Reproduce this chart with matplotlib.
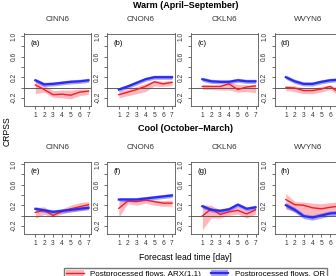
import matplotlib
matplotlib.use("Agg")
import matplotlib.pyplot as plt
from matplotlib.lines import Line2D
from matplotlib.patches import Patch

plt.rcParams["font.family"] = ["Liberation Sans", "DejaVu Sans"]

LEAD = [1, 2, 3, 4, 5, 6, 7]
STATIONS = ["CINN6", "CNON6", "CKLN6", "WVYN6"]
WARM_TAGS = ["(a)", "(b)", "(c)", "(d)"]
COOL_TAGS = ["(e)", "(f)", "(g)", "(h)"]

# QR (blue) - warm season
warm_qr = [[0.14, 0.06, 0.07, 0.09, 0.11, 0.12, 0.14],
           [-0.04, 0.02, 0.09, 0.16, 0.20, 0.20, 0.20],
           [0.16, 0.12, 0.11, 0.11, 0.14, 0.12, 0.12],
           [0.20, 0.12, 0.07, 0.07, 0.11, 0.14, 0.15]]
warm_qr_lo = [[0.10, 0.02, 0.03, 0.05, 0.07, 0.08, 0.10],
              [-0.08, -0.02, 0.05, 0.12, 0.16, 0.16, 0.16],
              [0.12, 0.08, 0.07, 0.07, 0.10, 0.08, 0.08],
              [0.16, 0.08, 0.03, 0.03, 0.07, 0.10, 0.11]]
warm_qr_hi = [[0.18, 0.10, 0.11, 0.13, 0.15, 0.16, 0.18],
              [0.00, 0.06, 0.13, 0.20, 0.24, 0.24, 0.24],
              [0.20, 0.16, 0.15, 0.15, 0.18, 0.16, 0.16],
              [0.24, 0.16, 0.11, 0.11, 0.15, 0.18, 0.19]]
# ARX(1,1) (red) - warm season
warm_arx = [[0.05, -0.04, -0.14, -0.13, -0.15, -0.09, -0.07],
            [-0.14, -0.09, -0.04, 0.02, 0.11, 0.07, 0.10],
            [0.02, 0.02, 0.02, 0.07, -0.04, 0.01, 0.03],
            [0.00, -0.01, -0.06, -0.06, -0.03, 0.02, -0.10]]
warm_arx_lo = [[-0.12, -0.09, -0.19, -0.20, -0.22, -0.16, -0.13],
               [-0.20, -0.16, -0.12, -0.08, 0.03, 0.02, 0.04],
               [-0.04, -0.04, -0.05, -0.05, -0.09, -0.08, -0.10],
               [-0.06, -0.08, -0.12, -0.12, -0.09, -0.04, -0.16]]
warm_arx_hi = [[0.12, 0.04, -0.06, -0.05, -0.05, -0.03, -0.03],
               [-0.08, -0.03, 0.02, 0.08, 0.14, 0.12, 0.14],
               [0.06, 0.05, 0.05, 0.10, 0.06, 0.05, 0.06],
               [0.04, 0.03, 0.00, -0.01, 0.02, 0.05, -0.02]]

# QR (blue) - cool season
cool_qr = [[0.13, 0.10, 0.07, 0.09, 0.11, 0.13, 0.15],
           [0.31, 0.31, 0.31, 0.33, 0.35, 0.37, 0.39],
           [0.18, 0.11, 0.09, 0.12, 0.21, 0.13, 0.16],
           [0.20, 0.11, -0.01, -0.04, 0.00, 0.04, 0.05]]
cool_qr_lo = [[0.09, 0.06, 0.03, 0.05, 0.07, 0.09, 0.11],
              [0.27, 0.27, 0.27, 0.29, 0.31, 0.33, 0.35],
              [0.14, 0.07, 0.05, 0.08, 0.17, 0.09, 0.12],
              [0.15, 0.06, -0.06, -0.09, -0.05, -0.01, 0.00]]
cool_qr_hi = [[0.17, 0.14, 0.11, 0.13, 0.15, 0.17, 0.19],
              [0.35, 0.35, 0.35, 0.37, 0.39, 0.41, 0.43],
              [0.22, 0.15, 0.13, 0.16, 0.25, 0.17, 0.20],
              [0.25, 0.16, 0.04, 0.01, 0.05, 0.09, 0.10]]
# ARX(1,1) (red) - cool season
cool_arx = [[0.06, 0.10, 0.00, 0.08, 0.13, 0.17, 0.21],
            [0.14, 0.28, 0.27, 0.30, 0.27, 0.24, 0.24],
            [-0.01, 0.13, 0.02, 0.07, 0.10, 0.03, 0.11],
            [0.31, 0.21, 0.20, 0.15, 0.13, 0.16, 0.18]]
cool_arx_lo = [[-0.05, 0.02, -0.03, 0.03, 0.07, 0.10, 0.13],
               [-0.03, 0.23, 0.20, 0.24, 0.20, 0.18, 0.18],
               [-0.28, -0.05, -0.05, 0.00, 0.03, -0.05, 0.03],
               [0.12, 0.08, 0.04, 0.00, 0.02, 0.05, 0.07]]
cool_arx_hi = [[0.15, 0.17, 0.05, 0.13, 0.20, 0.25, 0.27],
               [0.26, 0.33, 0.32, 0.34, 0.30, 0.29, 0.30],
               [0.20, 0.20, 0.10, 0.13, 0.17, 0.10, 0.16],
               [0.43, 0.27, 0.26, 0.24, 0.23, 0.25, 0.27]]

YTICKS = [-0.2, 0.0, 0.2, 0.4, 0.6, 0.8, 1.0]
YLABS = ["-0.2", "", "0.2", "", "0.6", "", "1.0"]

RED, PINK = "#e8202a", (1.0, 0.2, 0.25, 0.35)
BLUE, LBLUE = "#2b2bf0", (0.35, 0.35, 1.0, 0.55)

W, H = 336, 276
fig = plt.figure(figsize=(W / 100, H / 100), dpi=100)

# one panel: bands first, then zero line, then the two curves
def panel(x0, y0, name, tag, qr, qlo, qhi, arx, alo, ahi):
    ax = fig.add_axes([x0 / W, 1 - (y0 + 72) / H, 67 / W, 72 / H])
    ax.fill_between(LEAD, alo, ahi, color=PINK, lw=0)
    ax.fill_between(LEAD, qlo, qhi, color=LBLUE, lw=0)
    ax.axhline(0, color="#444444", lw=0.6)
    ax.plot(LEAD, arx, color=RED, lw=1.0)
    ax.plot(LEAD, qr, color=BLUE, lw=1.6)
    ax.set_xlim(-0.28, 7.28); ax.set_ylim(-0.35, 1.05)
    ax.set_xticks(LEAD); ax.set_xticklabels([str(i) for i in LEAD])
    ax.set_yticks(YTICKS); ax.set_yticklabels(YLABS, rotation=90, va="center")
    ax.tick_params(labelsize=4.8, length=2.5, width=0.5, pad=2, colors="#333333")
    for s in ax.spines.values(): s.set_linewidth(0.6); s.set_color("#555555")
    ax.text(0.09, 0.86, tag, transform=ax.transAxes, fontsize=5.5, va="center")
    ax.text(0.5, 1.2, name, transform=ax.transAxes, fontsize=5.8, ha="center",
            va="center", color="#333333")
    return ax

lefts = [24, 107.5, 191, 274.5]
for i in range(4):
    panel(lefts[i], 33.5, STATIONS[i], WARM_TAGS[i], warm_qr[i], warm_qr_lo[i], warm_qr_hi[i],
          warm_arx[i], warm_arx_lo[i], warm_arx_hi[i])
    panel(lefts[i], 161.5, STATIONS[i], COOL_TAGS[i], cool_qr[i], cool_qr_lo[i], cool_qr_hi[i],
          cool_arx[i], cool_arx_lo[i], cool_arx_hi[i])

fig.text(186 / W, 1 - 5 / H, "Warm (April\u2013September)", fontsize=6.5, fontweight="bold",
         ha="center", va="center")
fig.text(186 / W, 1 - 128 / H, "Cool (October\u2013March)", fontsize=6.5, fontweight="bold",
         ha="center", va="center")
fig.text(185 / W, 1 - 257 / H, "Forecast lead time [day]", fontsize=6.2, ha="center", va="center")
fig.text(7 / W, 1 - 131 / H, "CRPSS", fontsize=6.2, rotation=90, ha="center", va="center")

handles = [(Patch(fc=PINK, ec="none"), Line2D([], [], color=RED, lw=1.0)),
           (Patch(fc=LBLUE, ec="none"), Line2D([], [], color=BLUE, lw=1.6))]
fig.legend(handles, ["Postprocessed flows, ARX(1,1)", "Postprocessed flows, QR"], ncol=2,
           loc="upper left", bbox_to_anchor=(64 / W, 1 - 268 / H), fontsize=5.8, frameon=True,
           fancybox=False, edgecolor="#555555", handlelength=2.2, columnspacing=1.2,
           borderpad=0.25, borderaxespad=0)

fig.savefig("out.png", dpi=100)
